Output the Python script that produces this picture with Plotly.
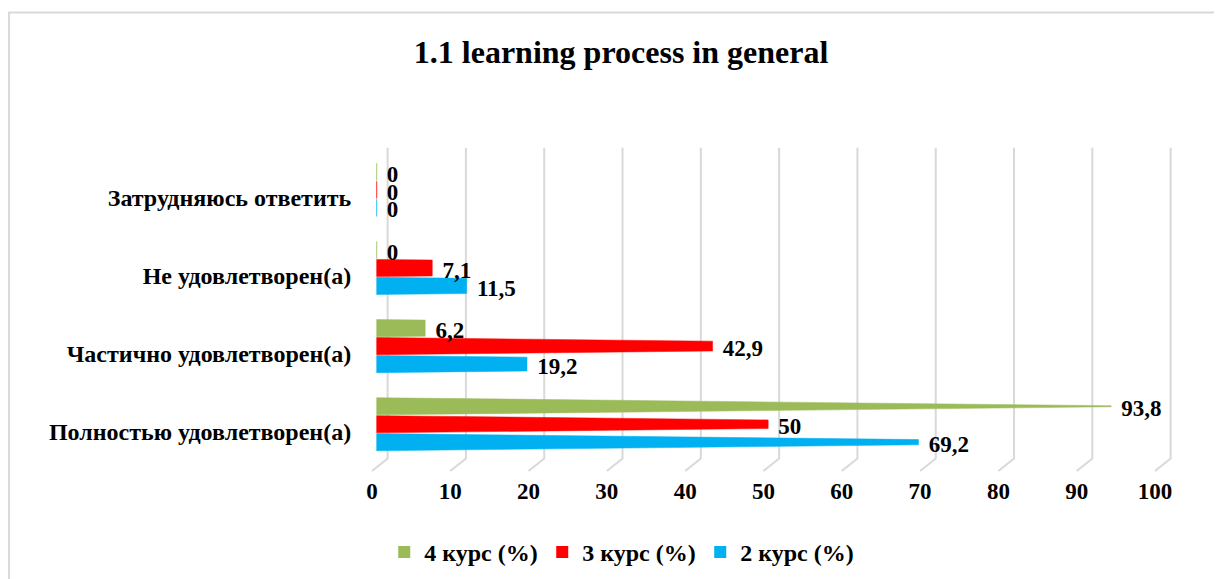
import plotly.graph_objects as go

categories = ["Полностью удовлетворен(а)", "Частично удовлетворен(а)",
              "Не удовлетворен(а)", "Затрудняюсь ответить"]
course2 = [69.2, 19.2, 11.5, 0]
course3 = [50, 42.9, 7.1, 0]
course4 = [93.8, 6.2, 0, 0]
value_labels2 = ["69,2", "19,2", "11,5", "0"]
value_labels3 = ["50", "42,9", "7,1", "0"]
value_labels4 = ["93,8", "6,2", "0", "0"]
x_ticks = [0, 10, 20, 30, 40, 50, 60, 70, 80, 90, 100]
series_names = ["4 курс (%)", "3 курс (%)", "2 курс (%)"]

FONT = "Liberation Serif, Times New Roman, serif"
GREEN = "#9BBB59"
RED = "#FF0000"
BLUE = "#00B0F0"
GRID = "#D9D9D9"

HALF = 0.11          # half thickness of a bar (category units)
OFFSETS = {"4": 0.23, "3": 0.0, "2": -0.23}
VANISH = 100.0       # perspective taper: bar thins toward this x
DEPTH_X = 0.6        # 3D floor offset of the tick labels (x units)


def polygons(values, off):
    xs, ys = [], []
    for i, v in enumerate(values):
        c = i + off
        f = max(1 - v / VANISH, 0.06)
        xs += [0, v, v, 0, 0, None]
        ys += [c - HALF, c - HALF * f, c + HALF * f, c + HALF, c - HALF, None]
    return xs, ys


fig = go.Figure()

# gridlines with 3D floor stubs, derived from tick values
gx, gy = [], []
for t in x_ticks:
    gx += [t + 1.4, t + 1.4, t - DEPTH_X, None]
    gy += [3.54, -0.44, -0.6, None]
fig.add_trace(go.Scatter(x=gx, y=gy, mode="lines", line=dict(color=GRID, width=2),
                         hoverinfo="skip", showlegend=False))

series = [("4", series_names[0], course4, value_labels4, GREEN),
          ("3", series_names[1], course3, value_labels3, RED),
          ("2", series_names[2], course2, value_labels2, BLUE)]

for key, name, vals, labs, col in series:
    xs, ys = polygons(vals, OFFSETS[key])
    fig.add_trace(go.Scatter(x=xs, y=ys, fill="toself", mode="lines",
                             line=dict(color=col, width=0.5), fillcolor=col,
                             name=name, legendgroup=key, showlegend=False,
                             hoverinfo="skip"))
    # legend entry (square swatch)
    fig.add_trace(go.Scatter(x=[None], y=[None], mode="markers", name=name,
                             legendgroup=key,
                             marker=dict(symbol="square", size=12, color=col)))

for key, name, vals, labs, col in series:
    fig.add_trace(go.Scatter(
        x=[v + 1.3 for v in vals],
        y=[i + OFFSETS[key] - 0.05 for i in range(len(vals))],
        mode="text", text=labs, textposition="middle right",
        textfont=dict(family=FONT, size=23, color="black", weight="bold"),
        showlegend=False, hoverinfo="skip"))

fig.update_layout(
    width=1214, height=571,
    paper_bgcolor="white", plot_bgcolor="white",
    margin=dict(l=353, r=31, t=135, b=104, autoexpand=False),
    title=dict(text="1.1 learning process in general", x=0.505, xanchor="center",
               y=0.923, yanchor="middle",
               font=dict(family=FONT, size=32, color="black", weight="bold")),
    xaxis=dict(range=[-2, 104], tickvals=[t - DEPTH_X for t in x_ticks],
               ticktext=[str(t) for t in x_ticks],
               showgrid=False, zeroline=False, showline=False, ticks="",
               tickfont=dict(family=FONT, size=23, color="black", weight="bold")),
    yaxis=dict(range=[-0.65, 3.6], tickvals=[i - 0.1 for i in range(len(categories))],
               ticktext=categories, showgrid=False, zeroline=False, showline=False,
               ticks="outside", ticklen=4, tickcolor="rgba(0,0,0,0)",
               tickfont=dict(family=FONT, size=24, color="black", weight="bold")),
    legend=dict(orientation="h", x=0.028, xanchor="left", y=-0.233, yanchor="middle",
                font=dict(family=FONT, size=24, color="black", weight="bold"),
                entrywidth=113, traceorder="normal"),
    shapes=[dict(type="rect", xref="paper", yref="paper", x0=-0.424, x1=1.2,
                 y0=-0.6, y1=1.393, line=dict(color=GRID, width=2), layer="below")],
    showlegend=True,
)

fig.write_html("out.html")
